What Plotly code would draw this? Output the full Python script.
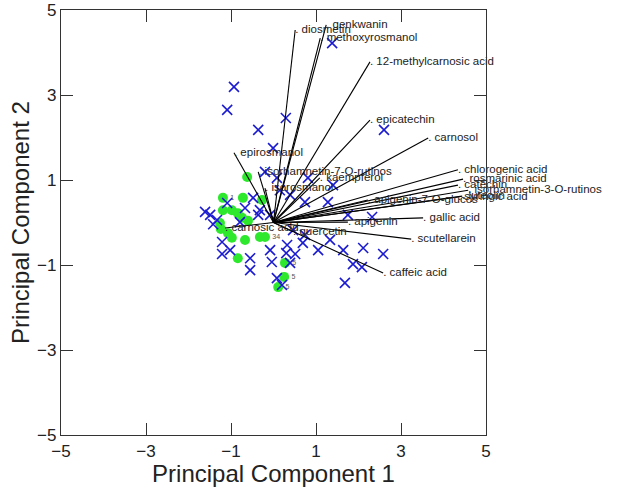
import plotly.graph_objects as go

# sample scores (PC1, PC2)
blue_x = [1.38, -0.93, -1.09, -0.36, 0.29, 2.60, -0.01, -0.20, 0.08, 0.81, 1.40, 0.15, 0.39, -0.48,
          0.74, 1.28, -1.09, -0.67, -0.32, -1.49, -1.33, -0.36, -0.08, 1.75, 2.32, 0.46, 0.74, 1.33,
          -1.21, 0.32, 0.69, -1.02, -1.21, -0.08, 1.05, 1.64, 2.11, 2.58, -0.55, 0.51, 0.30, -0.04,
          0.39, 1.87, 2.08, -0.55, 0.08, 0.20, 1.68, -1.61, -1.42, -0.79]
blue_y = [4.22, 3.19, 2.65, 2.18, 2.46, 2.18, 1.75, 1.19, 1.05, 1.05, 0.88, 0.76, 0.65, 0.58,
          0.48, 0.48, 0.46, 0.34, 0.29, 0.18, 0.06, 0.18, 0.18, 0.18, 0.13, -0.18, -0.29, -0.41,
          -0.46, -0.53, -0.48, -0.65, -0.74, -0.65, -0.65, -0.65, -0.60, -0.74, -0.84, -0.74, -0.72, -0.93,
          -0.95, -0.98, -1.05, -1.12, -1.31, -1.47, -1.42, 0.25, -0.04, 0.01]

green_x = [-0.62, -1.19, -0.72, -0.27, -1.19, -0.98, -0.84, -0.74, -0.60, -1.26, -1.24, -1.07,
           -0.98, -0.67, -0.32, -0.20, -0.84, 0.27, 0.25, 0.11]
green_y = [1.07, 0.58, 0.58, 0.53, 0.29, 0.29, 0.22, 0.11, 0.04, -0.01, -0.15, -0.25,
           -0.36, -0.41, -0.34, -0.34, -0.84, -0.95, -1.28, -1.52]
green_tags = ["", "1", "", "", "", "", "", "", "", "", "", "",
              "", "", "", "34", "", "5", "5", "5"]

# loadings
compounds = ["diosmetin", "genkwanin", "methoxyrosmanol", "12-methylcarnosic acid", "epicatechin",
             "carnosol", "chlorogenic acid", "rosmarinic acid", "catechin", "isorhamnetin-3-O-rutinos",
             "luteolin", "syringic acid", "apigenin-7-O-glucos", "isorhamnetin-7-O-rutinos", "kaempferol",
             "epirosmanol", "isorosmanol", "carnosic acid", "quercetin", "apigenin", "gallic acid",
             "scutellarein", "caffeic acid"]
load_x = [0.51, 1.24, 1.10, 2.27, 2.27, 3.64, 4.34, 4.46, 4.34, 4.58,
          4.44, 4.34, 2.22, -0.36, 1.09, -0.93, -0.20, -1.14, 0.46, 1.75, 3.52, 3.24, 2.58]
load_y = [4.53, 4.65, 4.34, 3.78, 2.41, 1.99, 1.24, 1.02, 0.88, 0.76,
          0.62, 0.60, 0.53, 1.19, 1.05, 1.64, 0.81, -0.13, -0.22, 0.01, 0.11, -0.39, -1.19]

ticks = [-5, -3, -1, 1, 3, 5]

font = "Liberation Sans, Arial, sans-serif"

fig = go.Figure()
fig.add_trace(go.Scatter(
    x=green_x, y=green_y, mode="markers+text", text=green_tags, textposition="middle right",
    textfont=dict(size=7, color="#555555", family=font),
    marker=dict(symbol="circle", size=10, color="#2ee82e"), cliponaxis=False,
))
fig.add_trace(go.Scatter(
    x=blue_x, y=blue_y, mode="markers",
    marker=dict(symbol="x-thin", size=10, line=dict(width=1.6, color="#1c1cd0")),
))

lx, ly = [], []
for vx, vy in zip(load_x, load_y):
    lx += [0, vx, None]
    ly += [0, vy, None]
fig.add_trace(go.Scatter(x=lx, y=ly, mode="lines", line=dict(color="black", width=1.1)))
fig.add_trace(go.Scatter(
    x=load_x, y=load_y, mode="text", text=[". " + c for c in compounds],
    textposition="middle right", textfont=dict(size=11.5, color="#222222", family=font),
    cliponaxis=False,
))

axis = dict(
    range=[-5, 5], tickvals=ticks, ticks="inside", ticklen=12, tickwidth=1.2, tickcolor="#333",
    showline=True, linecolor="#333", linewidth=1.2, mirror="ticks", showgrid=False, zeroline=False,
    tickfont=dict(size=17, color="#222", family=font), automargin=False,
)
fig.update_layout(
    width=630, height=499, showlegend=False,
    plot_bgcolor="white", paper_bgcolor="white",
    margin=dict(l=61, r=144, t=10, b=64),
    xaxis=dict(axis, title=dict(text="Principal Component 1", font=dict(size=24, color="#222", family=font), standoff=0)),
    yaxis=dict(axis, title=dict(text="Principal Component 2", font=dict(size=24, color="#222", family=font), standoff=0)),
)
fig.write_html("out.html", config={"displayModeBar": False},
               post_script="document.body.style.margin='0';")
